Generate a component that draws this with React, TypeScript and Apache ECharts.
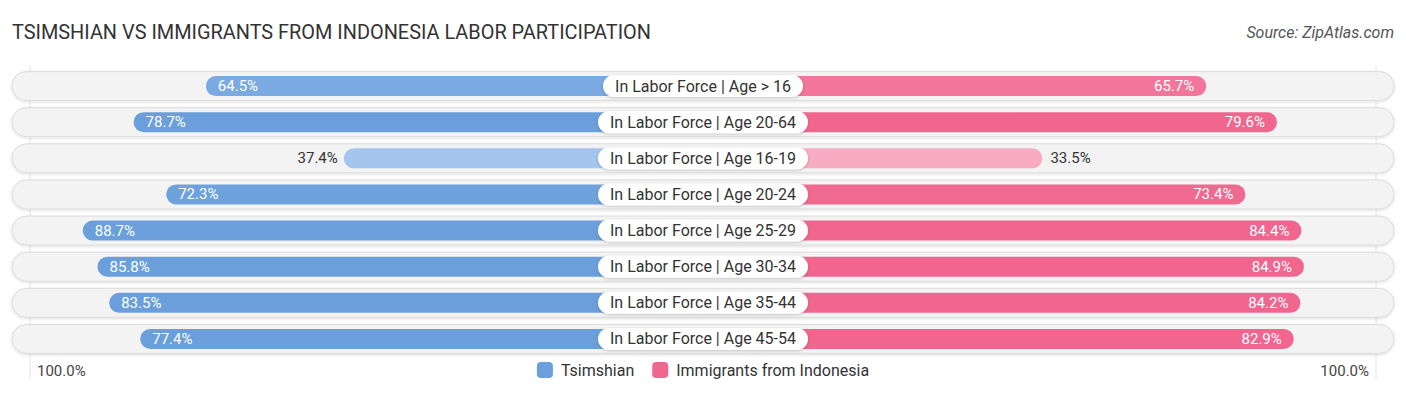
import React, { useEffect, useRef } from "react";
import * as echarts from "echarts";

const TITLE = "TSIMSHIAN VS IMMIGRANTS FROM INDONESIA LABOR PARTICIPATION";
const SOURCE = "Source: ZipAtlas.com";
const categories = [
  "In Labor Force | Age > 16",
  "In Labor Force | Age 20-64",
  "In Labor Force | Age 16-19",
  "In Labor Force | Age 20-24",
  "In Labor Force | Age 25-29",
  "In Labor Force | Age 30-34",
  "In Labor Force | Age 35-44",
  "In Labor Force | Age 45-54",
];
const tsimshian = [64.5, 78.7, 37.4, 72.3, 88.7, 85.8, 83.5, 77.4];
const indonesia = [65.7, 79.6, 33.5, 73.4, 84.4, 84.9, 84.2, 82.9];
const seriesNames = ["Tsimshian", "Immigrants from Indonesia"];
const axisEndLabel = "100.0%";

// layout constants (style, not data)
const OFFSET = 33.2; // bar start hidden under the centre label, in axis units
const MAXU = 135.8;
const FONT = "Roboto, 'Noto Sans', sans-serif";

function hex(c: string) {
  return [1, 3, 5].map((i) => parseInt(c.slice(i, i + 2), 16));
}
function mix(a: string, b: string, t: number) {
  const A = hex(a), B = hex(b);
  const r = A.map((x, i) => Math.round(x + (B[i] - x) * t));
  return `rgb(${r[0]},${r[1]},${r[2]})`;
}
function shade(v: number, light: string, dark: string) {
  const t = Math.max(0, Math.min(1, (v - 30) / (75 - 30)));
  return mix(light, dark, t);
}
const BLUE = "#6a9fdc", BLUE_L = "#b0cdf0";
const PINK = "#f0668f", PINK_L = "#f8b2c7";
const INSIDE_MIN = 50;

export default function App() {
  const ref = useRef<HTMLDivElement>(null);
  useEffect(() => {
    if (!ref.current) return;
    const chart = echarts.init(ref.current, null, { renderer: "svg" });
    const leftData = tsimshian.map((v) => ({
      value: -(v + OFFSET),
      itemStyle: { color: shade(v, BLUE_L, BLUE), borderRadius: 10 },
      label:
        v >= INSIDE_MIN
          ? { position: "insideLeft", distance: 12, color: "#fff" }
          : { position: "left", distance: 6, color: "#333" },
    }));
    const rightData = indonesia.map((v) => ({
      value: v + OFFSET,
      itemStyle: { color: shade(v, PINK_L, PINK), borderRadius: 10 },
      label:
        v >= INSIDE_MIN
          ? { position: "insideRight", distance: 12, color: "#fff" }
          : { position: "right", distance: 8, color: "#333" },
    }));
    const option: any = {
      animation: false,
      title: [
        {
          text: TITLE,
          left: 12,
          top: 22,
          padding: 0,
          textStyle: { fontFamily: FONT, fontSize: 19.9, fontWeight: "normal", color: "#333" },
        },
        {
          text: SOURCE,
          right: 12,
          top: 24,
          padding: 0,
          textStyle: { fontFamily: FONT, fontSize: 16, fontWeight: "normal", fontStyle: "italic", color: "#555" },
        },
      ],
      grid: { left: 12, right: 12, top: 68, bottom: 38 },
      xAxis: { type: "value", min: -MAXU, max: MAXU, show: false },
      yAxis: { type: "category", data: categories, inverse: true, show: false },
      legend: {
        data: seriesNames,
        left: "center",
        top: 362,
        padding: 0,
        itemWidth: 16,
        itemHeight: 16,
        itemGap: 18,
        icon: "roundRect",
        textStyle: { fontFamily: FONT, fontSize: 16, color: "#333", padding: [0, 0, 0, 3] },
      },
      graphic: [
        { type: "line", shape: { x1: 30, y1: 66, x2: 30, y2: 380 }, style: { stroke: "#e4e4e4", lineWidth: 1 }, z: 0 },
        { type: "line", shape: { x1: 1376, y1: 66, x2: 1376, y2: 380 }, style: { stroke: "#e4e4e4", lineWidth: 1 }, z: 0 },
        {
          type: "text",
          left: 37,
          top: 363,
          style: { text: axisEndLabel, font: `15px ${FONT}`, fill: "#444" },
        },
        {
          type: "text",
          right: 37,
          top: 363,
          style: { text: axisEndLabel, font: `15px ${FONT}`, fill: "#444" },
        },
      ],
      series: [
        {
          type: "custom",
          z: 1,
          silent: true,
          data: categories.map((c, i) => [0, i]),
          renderItem: (params: any, api: any) => {
            const idx = api.value(1);
            const y = api.coord([0, idx])[1];
            const l = api.coord([-MAXU, idx])[0];
            const r = api.coord([MAXU, idx])[0];
            return {
              type: "rect",
              shape: { x: l, y: y - 14.5, width: r - l, height: 29, r: 14.5 },
              style: {
                fill: "#f3f3f3",
                stroke: "#dcdcdc",
                lineWidth: 1,
                shadowBlur: 3,
                shadowColor: "rgba(0,0,0,0.14)",
                shadowOffsetY: 1,
              },
            };
          },
        },
        {
          name: seriesNames[0],
          type: "bar",
          z: 2,
          barWidth: 20,
          barGap: "-100%",
          itemStyle: { color: BLUE },
          label: {
            show: true,
            fontFamily: FONT,
            fontSize: 15,
            formatter: (p: any) => `${tsimshian[p.dataIndex].toFixed(1)}%`,
          },
          data: leftData,
        },
        {
          name: seriesNames[1],
          type: "bar",
          z: 2,
          barWidth: 20,
          barGap: "-100%",
          itemStyle: { color: PINK },
          label: {
            show: true,
            fontFamily: FONT,
            fontSize: 15,
            formatter: (p: any) => `${indonesia[p.dataIndex].toFixed(1)}%`,
          },
          data: rightData,
        },
        {
          type: "custom",
          z: 3,
          silent: true,
          data: categories.map((c, i) => [0, i]),
          renderItem: (params: any, api: any) => {
            const idx = api.value(1);
            const p = api.coord([0, idx]);
            return {
              type: "text",
              x: p[0],
              y: p[1],
              style: {
                text: categories[idx],
                font: `16px ${FONT}`,
                fill: "#333",
                align: "center",
                verticalAlign: "middle",
                backgroundColor: "#fff",
                padding: [3, 12, 3, 12],
                borderRadius: 12,
                shadowBlur: 3,
                shadowColor: "rgba(0,0,0,0.2)",
                shadowOffsetY: 1,
              },
            };
          },
        },
      ],
    };
    chart.setOption(option);
    return () => chart.dispose();
  }, []);
  return (
    <div
      ref={ref}
      style={{ position: "absolute", left: 0, top: 0, width: 1406, height: 395, background: "#fff" }}
    />
  );
}
